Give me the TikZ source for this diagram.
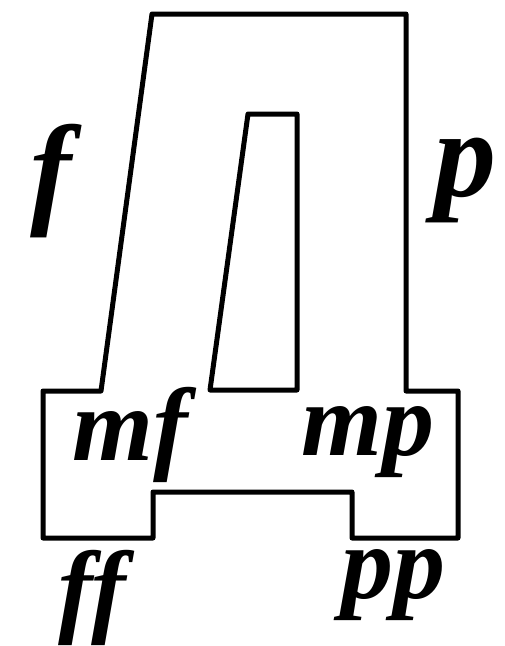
\documentclass[tikz,border=0pt]{standalone}
\usepackage{fontspec}
\setmainfont{Liberation Serif}
\usetikzlibrary{positioning}

\begin{document}
\begin{tikzpicture}[x=1pt,y=-1pt,
      outline/.style={draw=black,line width=5pt,line join=round},
      big/.style={inner sep=0pt,font=\fontsize{124}{124}\selectfont\bfseries\itshape},
      dyn/.style={inner sep=0pt,font=\fontsize{104}{104}\selectfont\bfseries\itshape}]
    \useasboundingbox (0,0) rectangle (504,646);
    % outer contour of the letter
    \draw[outline] (152,14) -- (406,14) -- (406,391) -- (458,391) -- (458,538)
      -- (352,538) -- (352,492) -- (153,492) -- (153,538) -- (43,538)
      -- (43,391) -- (101,391) -- cycle;
    % inner hole
    \draw[outline] (248,114) -- (297,114) -- (297,390) -- (210,390) -- cycle;
    % dynamics
    \node[big] (f) at (51,181) {f};
    \node[big] (p) at (465,180) {p};
    \node[dyn] (mf) at (130,435) {mf};
    \node[dyn] (mp) at (368,442) {mp};
    \node[dyn] (ff) at (92,598) {ff};
    \node[dyn] (pp) at (393,585) {pp};
  \end{tikzpicture}
\end{document}
